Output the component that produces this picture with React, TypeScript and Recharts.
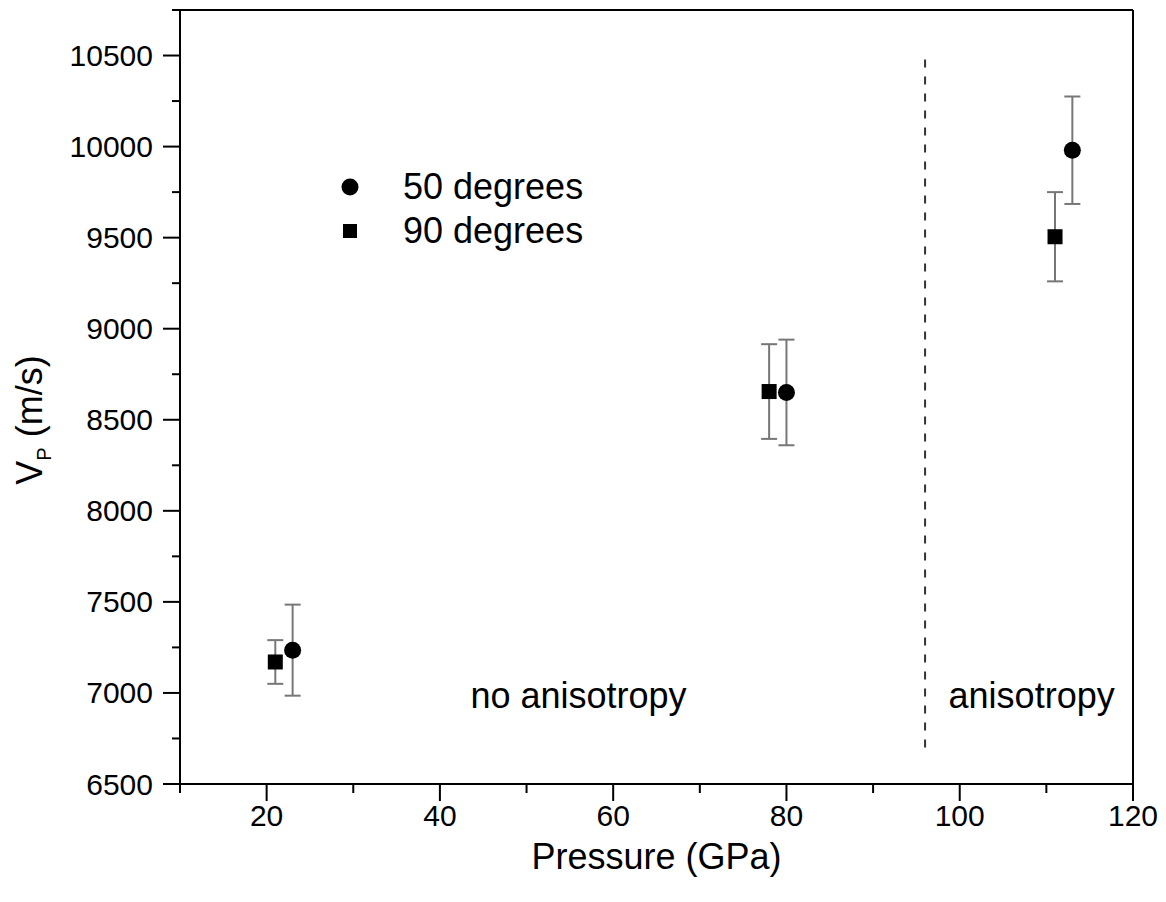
import { ComposedChart, Scatter, XAxis, YAxis, ErrorBar, ReferenceLine, ReferenceDot, Legend } from 'recharts'

const pressure50 = [23, 80, 113]
const vp50 = [7235, 8650, 9980]
const err50 = [250, 290, 295]

const pressure90 = [21, 78, 111]
const vp90 = [7170, 8655, 9505]
const err90 = [120, 260, 245]

const xTicks = [10, 20, 30, 40, 50, 60, 70, 80, 90, 100, 110, 120]
const yTicks = [6500, 6750, 7000, 7250, 7500, 7750, 8000, 8250, 8500, 8750, 9000, 9250, 9500, 9750, 10000, 10250, 10500, 10750]

const series50 = pressure50.map((p, i) => ({ p, v: vp50[i], err: err50[i] }))
const series90 = pressure90.map((p, i) => ({ p, v: vp90[i], err: err90[i] }))

const FONT = '"Liberation Sans", Arial, sans-serif'

const YTick = ({ x, y, payload }: any) => {
  const v = payload.value
  const major = v % 500 === 0 && v <= 10500
  return (
    <g>
      <line x1={x} x2={x - (major ? 17 : 8)} y1={y} y2={y} stroke="#000" strokeWidth={2} />
      {major && (
        <text x={x - 27} y={y} textAnchor="end" dominantBaseline="central" fontSize={30} fill="#000" fontFamily={FONT}>
          {v}
        </text>
      )}
    </g>
  )
}

const XTick = ({ x, y, payload }: any) => {
  const v = payload.value
  const major = v % 20 === 0
  return (
    <g>
      <line x1={x} x2={x} y1={y} y2={y + (major ? 17 : 9)} stroke="#000" strokeWidth={2} />
      {major && (
        <text x={x} y={y + 31} textAnchor="middle" dominantBaseline="central" fontSize={30} fill="#000" fontFamily={FONT}>
          {v}
        </text>
      )}
    </g>
  )
}

const circleShape = ({ cx, cy }: any) => <circle cx={cx} cy={cy} r={8.5} fill="#000" />
const squareShape = ({ cx, cy }: any) => <rect x={cx - 7.5} y={cy - 7.5} width={15} height={15} fill="#000" />

const renderLegend = ({ payload }: any) => (
  <div style={{ fontFamily: FONT }}>
    {(payload || []).map((entry: any) => (
      <div key={entry.value} style={{ display: 'flex', alignItems: 'center', height: 44 }}>
        <svg width={20} height={20}>
          {entry.value === '50 degrees'
            ? <circle cx={10} cy={10} r={8.5} fill="#000" />
            : <rect x={3} y={3} width={14} height={14} fill="#000" />}
        </svg>
        <span style={{ marginLeft: 43, fontSize: 36, color: '#000' }}>{entry.value}</span>
      </div>
    ))}
  </div>
)

const YLabel = () => (
  <text transform="translate(42, 420) rotate(-90)" textAnchor="middle" fontSize={36} fill="#000" fontFamily={FONT}>
    V<tspan fontSize={20} dy={9}>P</tspan>
    <tspan dy={-9}> (m/s)</tspan>
  </text>
)

export default function App() {
  return (
    <div style={{ position: 'absolute', left: 0, top: 0, background: '#fff' }}>
      <ComposedChart width={1166} height={902} margin={{ top: 10, right: 33, bottom: 0, left: 0 }} style={{ fontFamily: FONT }}>
        <XAxis
          type="number"
          dataKey="p"
          domain={[10, 120]}
          ticks={xTicks}
          interval={0}
          tickSize={0}
          tickMargin={0}
          tick={<XTick />}
          axisLine={{ stroke: '#000', strokeWidth: 2 }}
          tickLine={false}
          height={118}
          allowDataOverflow
          label={{ value: 'Pressure (GPa)', position: 'insideBottom', offset: 33, fontSize: 36, fill: '#000', fontFamily: FONT }}
        />
        <YAxis
          type="number"
          dataKey="v"
          domain={[6500, 10750]}
          ticks={yTicks}
          interval={0}
          tickSize={0}
          tickMargin={0}
          tick={<YTick />}
          axisLine={{ stroke: '#000', strokeWidth: 2 }}
          tickLine={false}
          width={180}
          allowDataOverflow
          label={<YLabel />}
        />
        <ReferenceLine y={10750} stroke="#000" strokeWidth={2} />
        <ReferenceLine x={120} stroke="#000" strokeWidth={2} />
        <ReferenceLine
          segment={[{ x: 96, y: 6700 }, { x: 96, y: 10520 }]}
          stroke="#333"
          strokeWidth={2}
          strokeDasharray="8 9"
        />
        <ReferenceDot
          x={56}
          y={6985}
          r={0}
          label={{ value: 'no anisotropy', position: 'center', fontSize: 36, fill: '#000', fontFamily: FONT }}
        />
        <ReferenceDot
          x={108.3}
          y={6985}
          r={0}
          label={{ value: 'anisotropy', position: 'center', fontSize: 36, fill: '#000', fontFamily: FONT }}
        />
        <Legend
          layout="vertical"
          verticalAlign="middle"
          align="center"
          content={renderLegend}
          wrapperStyle={{ position: 'absolute', left: 340, top: 165, width: 300 }}
        />
        <Scatter name="50 degrees" data={series50} shape={circleShape} isAnimationActive={false}>
          <ErrorBar dataKey="err" direction="y" width={8} stroke="#777" strokeWidth={2} />
        </Scatter>
        <Scatter name="90 degrees" data={series90} shape={squareShape} isAnimationActive={false}>
          <ErrorBar dataKey="err" direction="y" width={8} stroke="#777" strokeWidth={2} />
        </Scatter>
      </ComposedChart>
    </div>
  )
}
